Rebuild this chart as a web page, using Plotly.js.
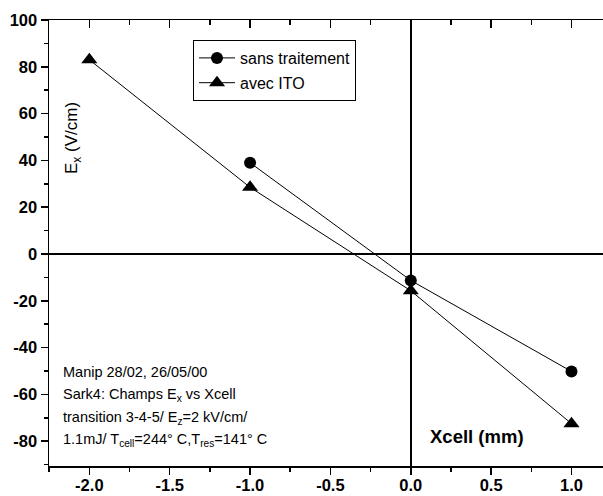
<!DOCTYPE html>
<html><head><meta charset="utf-8">
<script src="https://cdn.plot.ly/plotly-3.0.1.min.js"></script>
<style>html,body{margin:0;padding:0;background:#fff}#c{width:603px;height:496px}</style>
</head><body><div id="c"></div>
<script>
const sansX = [-1.0, 0.0, 1.0];
const sansY = [39, -11.3, -50.2];
const itoX = [-2.0, -1.0, 0.0, 1.0];
const itoY = [83, 28.5, -15.7, -72.5];
const seriesNames = ["sans traitement", "avec ITO"];
const xTickVals = [-2.0, -1.5, -1.0, -0.5, 0.0, 0.5, 1.0];
const xTickText = ["-2.0", "-1.5", "-1.0", "-0.5", "0.0", "0.5", "1.0"];
const yTickVals = [100, 80, 60, 40, 20, 0, -20, -40, -60, -80];
const yTickText = ["100", "80", "60", "40", "20", "0", "-20", "-40", "-60", "-80"];
const infoLines = [
  "Manip 28/02, 26/05/00",
  "Sark4: Champs E<sub>x</sub> vs Xcell",
  "transition 3-4-5/ E<sub>z</sub>=2 kV/cm/",
  "1.1mJ/ T<sub>cell</sub>=244° C,T<sub>res</sub>=141° C"
];
const FONT = "Liberation Sans, Arial, sans-serif";
const xr = [-2.251, 1.196], yr = [-90.6, 100];

const traces = [
  {x: sansX, y: sansY, name: seriesNames[0], legendgroup: "a", mode: "lines+markers", type: "scatter",
   line: {color: "#000", width: 1}, marker: {symbol: "circle", size: 12, color: "#000"}},
  {x: itoX, y: itoY, name: seriesNames[1], legendgroup: "b", mode: "lines+markers", type: "scatter",
   line: {color: "#000", width: 1}, marker: {symbol: "triangle-up", size: 14, color: "#000"}},
  {x: [null], y: [null], xaxis: "x2", showlegend: false, hoverinfo: "skip"}
];

const lineY = [372, 395, 418, 440];
const annotations = infoLines.map((t, i) => ({
  text: t, xref: "paper", yref: "paper", x: (61 - 49) / 554, y: (466 - lineY[i]) / 446,
  xanchor: "left", yanchor: "middle", showarrow: false, font: {family: FONT, size: 14.5, color: "#000"}
}));
annotations.push({text: "E<sub>x</sub> (V/cm)", xref: "paper", yref: "paper", x: (73 - 49) / 554, y: (466 - 138) / 446,
  textangle: -90, showarrow: false, xanchor: "center", yanchor: "middle", font: {family: FONT, size: 17, color: "#000"}});
annotations.push({text: "<b>Xcell (mm)</b>", xref: "x", yref: "y", x: 0.41, y: -78, showarrow: false,
  xanchor: "center", yanchor: "middle", font: {family: FONT, size: 18.5, color: "#000"}});

const tf = {family: FONT, size: 16.5, color: "#000"};
const layout = {
  width: 603, height: 496, margin: {l: 49, r: 0, t: 20, b: 30},
  paper_bgcolor: "#fff", plot_bgcolor: "#fff", font: {family: FONT, color: "#000"},
  xaxis: {range: xr, tickmode: "array", tickvals: xTickVals, ticktext: xTickText.map(s => "<b>" + s + "</b>"),
    ticks: "outside", ticklen: 7, tickwidth: 1.5, tickcolor: "#000", ticklabelstandoff: -3,
    showline: true, linecolor: "#000", linewidth: 1.5, showgrid: false, zeroline: true, zerolinecolor: "#000", zerolinewidth: 1.5,
    minor: {dtick: 0.25, tick0: 0, ticks: "outside", ticklen: 4, tickwidth: 1.5, tickcolor: "#000"},
    tickfont: tf},
  xaxis2: {overlaying: "x", side: "top", range: xr, dtick: 0.5, tick0: 0, ticks: "inside", ticklen: 8, tickwidth: 1.5, tickcolor: "#000",
    showticklabels: false, showline: true, linecolor: "#000", linewidth: 1.5, showgrid: false, zeroline: false,
    minor: {dtick: 0.25, ticks: "inside", ticklen: 5, tickwidth: 1.5, tickcolor: "#000"}},
  yaxis: {range: yr, tickmode: "array", tickvals: yTickVals, ticktext: yTickText.map(s => "<b>" + s + "</b>"),
    ticks: "outside", ticklen: 7, tickwidth: 1.5, tickcolor: "#000",
    showline: true, linecolor: "#000", linewidth: 1.5, showgrid: false, zeroline: true, zerolinecolor: "#000", zerolinewidth: 1.5,
    minor: {dtick: 10, tick0: 0, ticks: "outside", ticklen: 4, tickwidth: 1.5, tickcolor: "#000"},
    tickfont: tf},
  showlegend: true,
  legend: {x: (193 - 49) / 554, y: (466 - 40) / 446, xanchor: "left", yanchor: "top", bordercolor: "#000", borderwidth: 1,
    bgcolor: "#fff", font: {family: FONT, size: 16, color: "#000"}, tracegroupgap: 1, traceorder: "grouped",
    itemwidth: 36},
  annotations: annotations
};
Plotly.newPlot("c", traces, layout, {staticPlot: true});
</script></body></html>
